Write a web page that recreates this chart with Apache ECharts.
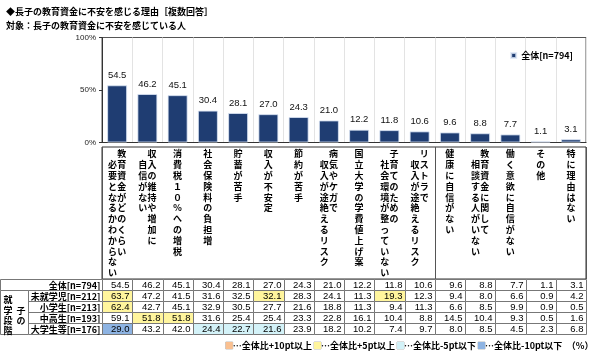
<!DOCTYPE html>
<html>
<head>
<meta charset="utf-8">
<script src="https://cdn.jsdelivr.net/npm/echarts@6/dist/echarts.min.js"></script>
<style>
  body { margin: 0; background: #fff; }
  #main { width: 600px; height: 352px; }
</style>
</head>
<body>
<div id="main"></div>
<script>
  // 項目（縦書きラベルは右の列→左の列の順）
  const labelColumns = [
    ['教育資金がどのくらい', '必要となるかわからない'],
    ['収入の維持や増加に', '自信がない'],
    ['消費税１０％への増税'],
    ['社会保険料の負担増'],
    ['貯蓄が苦手'],
    ['収入が不安定'],
    ['節約が苦手'],
    ['病気やケガで', '収入が途絶えるリスク'],
    ['国立大学の学費値上げ案'],
    ['子育てのための', '社会環境が整っていない'],
    ['リストラで', '収入が途絶えるリスク'],
    ['健康に自信がない'],
    ['教育資金に関して', '相談する人がいない'],
    ['働く意欲に自信がない'],
    ['その他'],
    ['特に理由はない']
  ];
  const categories = labelColumns.map(c => c.join(''));

  const total = [54.5, 46.2, 45.1, 30.4, 28.1, 27.0, 24.3, 21.0, 12.2, 11.8, 10.6, 9.6, 8.8, 7.7, 1.1, 3.1];
  const preschool = [63.7, 47.2, 41.5, 31.6, 32.5, 32.1, 28.3, 24.1, 11.3, 19.3, 12.3, 9.4, 8.0, 6.6, 0.9, 4.2];
  const elementary = [62.4, 42.7, 45.1, 32.9, 30.5, 27.7, 21.6, 18.8, 11.3, 9.4, 11.3, 6.6, 8.5, 9.9, 0.9, 0.5];
  const secondary = [59.1, 51.8, 51.8, 31.6, 25.4, 25.4, 23.3, 22.8, 16.1, 10.4, 8.8, 14.5, 10.4, 9.3, 0.5, 1.6];
  const university = [29.0, 43.2, 42.0, 24.4, 22.7, 21.6, 23.9, 18.2, 10.2, 7.4, 9.7, 8.0, 8.5, 4.5, 2.3, 6.8];

  const rowLabels = ['全体[n=794]', '未就学児[n=212]', '小学生[n=213]', '中高生[n=193]', '大学生等[n=176]'];
  const rows = [total, preschool, elementary, secondary, university];
  const groupLabel = ['子の', '就学段階'];

  const FONT_JP = '"Noto Sans CJK JP", sans-serif';
  const FONT_NUM = '"Liberation Sans", Arial, sans-serif';
  const C_PEACH = '#FAC090', C_YELLOW = '#FFF59D', C_CYAN = '#D3F2F8', C_BLUE = '#8DB3E2';

  function verticalText(cols) {
    if (cols.length === 1) return cols[0].split('').join('\n');
    const r = cols[0], l = cols[1];
    const n = Math.max(r.length, l.length + 1);
    const lines = [];
    for (let i = 0; i < n; i++) {
      const lc = i >= 1 && l[i - 1] ? l[i - 1] : '　';
      const rc = r[i] ? r[i] : '　';
      lines.push(lc + rc);
    }
    return lines.join('\n');
  }

  function cellColor(r, c) {
    if (r === 0) return '#fff';
    const d = Math.round((rows[r][c] - total[c]) * 10) / 10;
    if (d >= 10) return C_PEACH;
    if (d >= 5) return C_YELLOW;
    if (d <= -10) return C_BLUE;
    if (d <= -5) return C_CYAN;
    return '#fff';
  }

  const cellData = [];
  rows.forEach((vals, r) => vals.forEach((v, c) => cellData.push([c, r, v])));

  const px = v => Math.round(v) + 0.5;

  const chart = echarts.init(document.getElementById('main'));
  chart.setOption({
    animation: false,
    title: [
      {
        text: '◆長子の教育資金に不安を感じる理由［複数回答］\n対象：長子の教育資金に不安を感じている人',
        left: 1, top: 0,
        textStyle: { fontFamily: FONT_JP, fontSize: 9, fontWeight: 'bold', color: '#000', lineHeight: 14 }
      },
      {
        text: '{p|}…全体比+10pt以上 {y|}…全体比+5pt以上 {c|}…全体比-5pt以下 {b|}…全体比-10pt以下　（%）',
        right: 6, top: 340, padding: 0,
        textStyle: {
          fontFamily: FONT_JP, fontSize: 9, fontWeight: 'bold', color: '#000', lineHeight: 11,
          rich: {
            p: { width: 7, height: 7, backgroundColor: C_PEACH, borderColor: '#bbb', borderWidth: 0.5 },
            y: { width: 7, height: 7, backgroundColor: C_YELLOW, borderColor: '#bbb', borderWidth: 0.5 },
            c: { width: 7, height: 7, backgroundColor: C_CYAN, borderColor: '#bbb', borderWidth: 0.5 },
            b: { width: 7, height: 7, backgroundColor: C_BLUE, borderColor: '#bbb', borderWidth: 0.5 }
          }
        }
      }
    ],
    legend: {
      data: ['全体[n=794]'],
      right: 22, top: 46,
      icon: 'rect', itemWidth: 5, itemHeight: 5, itemGap: 2,
      textStyle: { fontFamily: FONT_JP, fontSize: 9, fontWeight: 'bold', color: '#000' }
    },
    grid: [
      { left: 102, right: 14, top: 37.5, height: 105, show: true, borderColor: '#555', borderWidth: 1 },
      { left: 102, right: 14, top: 147, height: 132, show: true, borderColor: '#333', borderWidth: 1 },
      { left: 102, right: 14, top: 279, height: 54.5 },
      { left: 0, width: 102, top: 279, height: 54.5 }
    ],
    xAxis: [
      {
        gridIndex: 0, type: 'category', data: categories,
        axisLine: { lineStyle: { color: '#333' } },
        axisTick: { show: false },
        splitLine: { show: true, lineStyle: { color: '#e3e3e3' } },
        axisLabel: {
          interval: 0, margin: 6,
          fontFamily: FONT_JP, fontSize: 9, fontWeight: 'bold', color: '#000', lineHeight: 10.8,
          formatter: (v, i) => verticalText(labelColumns[i])
        }
      },
      {
        gridIndex: 1, type: 'category', data: categories,
        axisLine: { show: false }, axisTick: { show: false }, axisLabel: { show: false },
        splitLine: { show: true, lineStyle: { color: '#555' } }
      },
      { gridIndex: 2, type: 'category', data: categories, show: false },
      { gridIndex: 3, type: 'value', min: 0, max: 102, show: false }
    ],
    yAxis: [
      {
        gridIndex: 0, type: 'value', min: 0, max: 100, interval: 50,
        axisLine: { show: true, lineStyle: { color: '#333' } },
        axisTick: { show: true, length: 3, lineStyle: { color: '#333' } },
        splitLine: { show: false },
        axisLabel: { formatter: '{value}%', fontFamily: FONT_NUM, fontSize: 8, color: '#222', margin: 6 }
      },
      { gridIndex: 1, type: 'value', show: false },
      { gridIndex: 2, type: 'category', data: rowLabels, inverse: true, show: false },
      { gridIndex: 3, type: 'category', data: rowLabels, inverse: true, show: false }
    ],
    series: [
      {
        name: '全体[n=794]', type: 'bar', xAxisIndex: 0, yAxisIndex: 0,
        data: total, barWidth: 20,
        itemStyle: { color: '#1F3D72', borderColor: 'rgba(220,230,245,0.8)', borderWidth: 1 },
        label: {
          show: true, position: 'top', distance: 5,
          fontFamily: FONT_NUM, fontSize: 9.5, color: '#111',
          formatter: p => p.value.toFixed(1)
        }
      },
      {
        name: 'cells', type: 'custom', xAxisIndex: 2, yAxisIndex: 2,
        data: cellData, silent: true,
        renderItem: (params, api) => {
          const c = api.value(0), r = api.value(1), v = api.value(2);
          const ctr = api.coord([c, r]);
          const size = api.size([1, 1]);
          const x0 = px(ctr[0] - size[0] / 2), x1 = px(ctr[0] + size[0] / 2);
          const y0 = px(ctr[1] - size[1] / 2), y1 = px(ctr[1] + size[1] / 2);
          return {
            type: 'group',
            children: [
              {
                type: 'rect',
                shape: { x: x0, y: y0, width: x1 - x0, height: y1 - y0 },
                style: { fill: cellColor(r, c), stroke: '#777', lineWidth: 1 }
              },
              {
                type: 'text',
                style: {
                  x: x1 - 3, y: (y0 + y1) / 2 + 0.5, text: v.toFixed(1),
                  align: 'right', verticalAlign: 'middle',
                  font: '9.5px ' + FONT_NUM, fill: '#000'
                }
              }
            ]
          };
        }
      },
      {
        name: 'rowLabels', type: 'custom', xAxisIndex: 3, yAxisIndex: 3,
        data: rowLabels.map((l, i) => [i]), silent: true,
        renderItem: (params, api) => {
          const r = api.value(0);
          const ctr = api.coord([0, r]);
          const size = api.size([0, 1]);
          const x0 = px(api.coord([r === 0 ? 0 : 28, r])[0]);
          const x1 = px(api.coord([102, r])[0]);
          const y0 = px(ctr[1] - size[1] / 2), y1 = px(ctr[1] + size[1] / 2);
          return {
            type: 'group',
            children: [
              {
                type: 'rect',
                shape: { x: x0, y: y0, width: x1 - x0, height: y1 - y0 },
                style: { fill: '#fff', stroke: '#777', lineWidth: 1 }
              },
              {
                type: 'text',
                style: {
                  x: x1 - 2, y: (y0 + y1) / 2 + 0.5, text: rowLabels[r],
                  align: 'right', verticalAlign: 'middle',
                  font: 'bold 9px ' + FONT_JP, fill: '#000'
                }
              }
            ]
          };
        }
      },
      {
        name: 'group', type: 'custom', xAxisIndex: 3, yAxisIndex: 3,
        data: [[1, 4]], silent: true,
        renderItem: (params, api) => {
          const first = api.value(0), last = api.value(1);
          const h = api.size([0, 1])[1];
          const x0 = px(api.coord([0, first])[0]);
          const x1 = px(api.coord([28, first])[0]);
          const y0 = px(api.coord([0, first])[1] - h / 2);
          const y1 = px(api.coord([0, last])[1] + h / 2);
          // 左の列「就学段階」、右の列「子の」（一文字下げ）
          const l = groupLabel[1], rr = groupLabel[0];
          const lines = [];
          for (let i = 0; i < l.length; i++) {
            lines.push(l[i] + '  ' + (i >= 1 && rr[i - 1] ? rr[i - 1] : '　'));
          }
          return {
            type: 'group',
            children: [
              {
                type: 'rect',
                shape: { x: x0, y: y0, width: x1 - x0, height: y1 - y0 },
                style: { fill: '#fff', stroke: '#777', lineWidth: 1 }
              },
              {
                type: 'text',
                style: {
                  x: (x0 + x1) / 2, y: y0 + 4, text: lines.join('\n'),
                  align: 'center', verticalAlign: 'top', lineHeight: 10.4,
                  font: 'bold 9px ' + FONT_JP, fill: '#000'
                }
              }
            ]
          };
        }
      }
    ]
  });
</script>
</body>
</html>
